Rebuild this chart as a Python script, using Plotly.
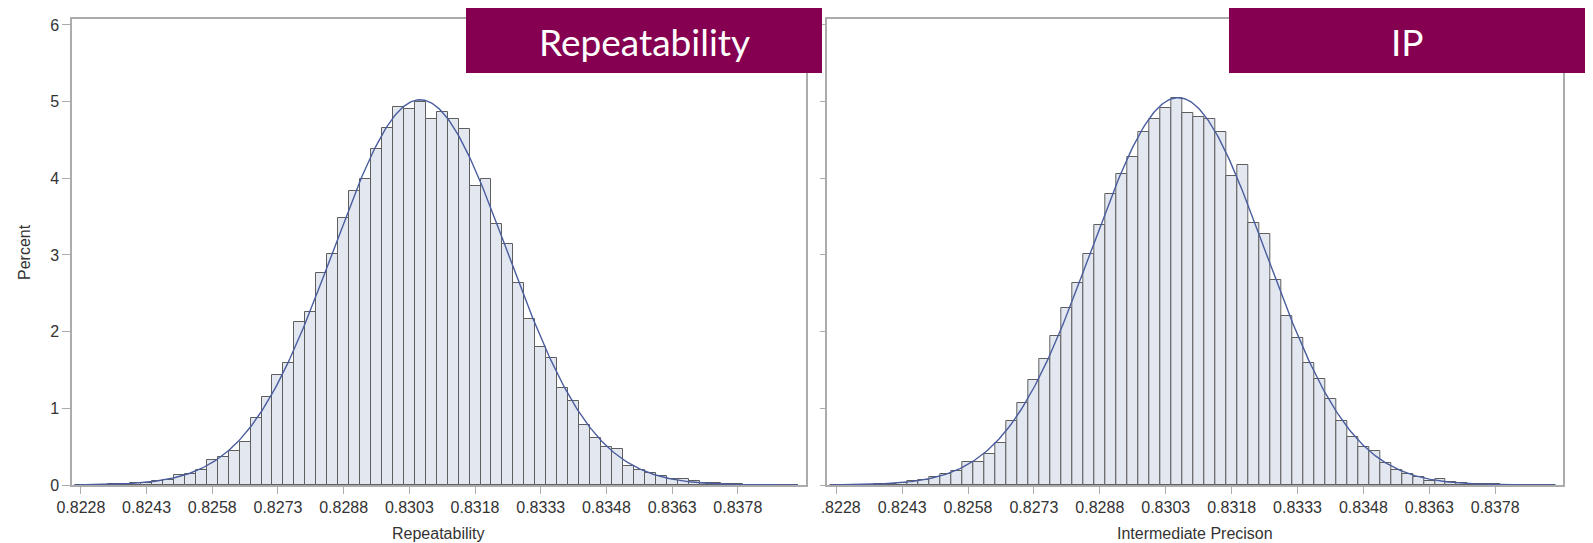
import numpy as np
import plotly.graph_objects as go

# Canvas size in pixels
W, H = 1593, 543

# Histogram bins: midpoints start at 0.8228, width 0.00025
BIN_START = 0.8228
BIN_WIDTH = 0.00025

# Percent of simulated results per bin
repeatability_pct = [
    0.002, 0.003, 0.005, 0.008, 0.012, 0.02, 0.03, 0.055, 0.07, 0.125,
    0.14, 0.19, 0.32, 0.37, 0.45, 0.56, 0.87, 1.15, 1.44, 1.59,
    2.13, 2.26, 2.77, 3.01, 3.48, 3.84, 3.99, 4.38, 4.66, 4.93,
    4.91, 5.00, 4.77, 4.87, 4.78, 4.64, 3.90, 3.99, 3.40, 3.14,
    2.63, 2.17, 1.80, 1.65, 1.27, 1.10, 0.78, 0.61, 0.49, 0.47,
    0.25, 0.20, 0.16, 0.12, 0.074, 0.083, 0.052, 0.03, 0.02, 0.015,
    0.01, 0.006, 0.004, 0.003, 0.002, 0.002,
]
intermediate_pct = [
    0.002, 0.003, 0.004, 0.006, 0.01, 0.017, 0.03, 0.05, 0.07, 0.10,
    0.14, 0.18, 0.30, 0.30, 0.41, 0.55, 0.83, 1.07, 1.37, 1.64,
    1.94, 2.31, 2.63, 3.01, 3.39, 3.80, 4.05, 4.28, 4.61, 4.77,
    4.92, 5.05, 4.85, 4.80, 4.77, 4.60, 4.03, 4.18, 3.42, 3.27,
    2.67, 2.21, 1.92, 1.59, 1.38, 1.12, 0.84, 0.62, 0.50, 0.44,
    0.29, 0.20, 0.15, 0.11, 0.048, 0.074, 0.043, 0.022, 0.015, 0.01,
    0.007, 0.005, 0.004, 0.003, 0.002, 0.002,
]

x_tick_values = [0.8228, 0.8243, 0.8258, 0.8273, 0.8288, 0.8303,
                 0.8318, 0.8333, 0.8348, 0.8363, 0.8378]
x_tick_labels = ["0.8228", "0.8243", "0.8258", "0.8273", "0.8288", "0.8303",
                 "0.8318", "0.8333", "0.8348", "0.8363", "0.8378"]
y_tick_values = [0, 1, 2, 3, 4, 5, 6]

panel_titles = ["Repeatability", "IP"]
axis_titles = ["Repeatability", "Intermediate Precison"]

# Styling
FILL = "#e2e7f0"
OUTLINE = "#5e5e5e"
CURVE = "#4a5d9e"
FRAME = "#ababab"
TEXT = "#333333"
BANNER = "#850050"
LABEL_FONT = dict(family="Liberation Sans, Arial, sans-serif", size=16, color=TEXT)

X_RANGE = [0.822597, 0.83935]
Y_RANGE = [0, 6.078]


def fx(px):
    return px / W


def fy(px):
    return 1 - px / H


# Plot-area rectangles (pixels): left, right, top, bottom
panels = [
    dict(x0=72, x1=805.7, top=19, bottom=485, data=repeatability_pct,
         banner=(466, 822), yticklen=8),
    dict(x0=827.3, x1=1563.3, top=19, bottom=485, data=intermediate_pct,
         banner=(1229, 1585), yticklen=6),
]

fig = go.Figure()
layout_axes = {}
annotations = []
shapes = []

for i, p in enumerate(panels):
    n = i + 1
    xa = "x" if n == 1 else f"x{n}"
    ya = "y" if n == 1 else f"y{n}"
    pct = np.array(p["data"], dtype=float)
    mids = BIN_START + BIN_WIDTH * np.arange(len(pct))

    fig.add_trace(go.Bar(
        x=mids, y=pct, width=BIN_WIDTH,
        marker=dict(color=FILL, line=dict(color=OUTLINE, width=1)),
        xaxis=xa, yaxis=ya, showlegend=False, hoverinfo="skip",
    ))

    # Normal fit using the mean and standard deviation of the binned data
    w = pct / pct.sum()
    mu = float((w * mids).sum())
    sd = float(np.sqrt((w * (mids - mu) ** 2).sum()))
    xs = np.linspace(mids[0] - BIN_WIDTH / 2, mids[-1] + BIN_WIDTH / 2, 500)
    ys = pct.sum() * BIN_WIDTH / (sd * np.sqrt(2 * np.pi)) * np.exp(-0.5 * ((xs - mu) / sd) ** 2)
    fig.add_trace(go.Scatter(
        x=xs, y=ys, mode="lines", line=dict(color=CURVE, width=1.4),
        xaxis=xa, yaxis=ya, showlegend=False, hoverinfo="skip",
    ))

    xkey = "xaxis" if n == 1 else f"xaxis{n}"
    ykey = "yaxis" if n == 1 else f"yaxis{n}"
    layout_axes[xkey] = dict(
        domain=[fx(p["x0"]), fx(p["x1"])], range=X_RANGE, anchor=ya,
        tickmode="array", tickvals=x_tick_values, ticktext=x_tick_labels,
        ticks="outside", ticklen=7, tickwidth=1, tickcolor=FRAME,
        showline=True, linecolor=FRAME, linewidth=1.5, mirror=True,
        showgrid=False, zeroline=False, tickfont=LABEL_FONT, automargin=False,
    )
    layout_axes[ykey] = dict(
        domain=[fy(p["bottom"]), fy(p["top"])], range=Y_RANGE, anchor=xa,
        tickmode="array", tickvals=y_tick_values,
        ticks="outside", ticklen=p["yticklen"], tickwidth=1, tickcolor=FRAME,
        showline=True, linecolor=FRAME, linewidth=1.5, mirror=True,
        showgrid=False, zeroline=False, tickfont=LABEL_FONT, automargin=False,
        showticklabels=(n == 1),
    )

    # X axis title
    annotations.append(dict(
        x=fx((p["x0"] + p["x1"]) / 2), y=fy(533), xref="paper", yref="paper",
        text=axis_titles[i], showarrow=False, xanchor="center", yanchor="middle",
        font=LABEL_FONT,
    ))

    # Banner label above each panel
    bx0, bx1 = p["banner"]
    shapes.append(dict(
        type="rect", xref="paper", yref="paper", layer="above",
        x0=fx(bx0), x1=fx(bx1), y0=fy(73), y1=fy(8),
        fillcolor=BANNER, line=dict(width=0),
    ))
    annotations.append(dict(
        x=fx((bx0 + bx1) / 2), y=fy(41), xref="paper", yref="paper",
        text=panel_titles[i], showarrow=False, xanchor="center", yanchor="middle",
        font=dict(family="Lato, Open Sans, sans-serif", size=37, color="white"),
    ))

# Gap between the two panels trims the first label of the right axis
shapes.append(dict(
    type="rect", xref="paper", yref="paper", layer="above",
    x0=fx(806.5), x1=fx(820.8), y0=fy(520), y1=fy(493),
    fillcolor="white", line=dict(width=0),
))

annotations.append(dict(
    x=fx(25), y=fy(252), xref="paper", yref="paper", text="Percent",
    textangle=-90, showarrow=False, xanchor="center", yanchor="middle",
    font=LABEL_FONT,
))

fig.update_layout(
    template="none",
    width=W, height=H, margin=dict(l=0, r=0, t=0, b=0, autoexpand=False),
    paper_bgcolor="white", plot_bgcolor="white",
    bargap=0, barmode="overlay",
    annotations=annotations, shapes=shapes,
    **layout_axes,
)

fig.write_html("out.html")
